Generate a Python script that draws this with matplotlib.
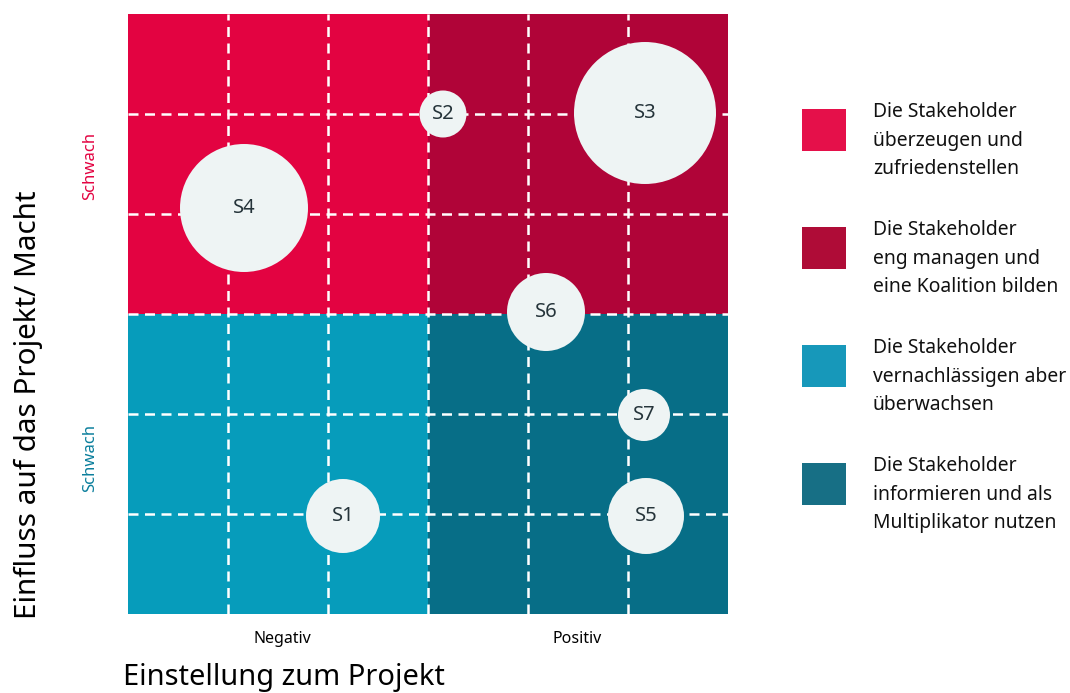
"""Stakeholder-Matrix: Einfluss vs. Einstellung als Blasendiagramm."""

import matplotlib
matplotlib.use("Agg")
from matplotlib import pyplot as plt
from matplotlib.patches import Circle, Rectangle

plt.rcParams['font.family'] = ['Noto Sans', 'DejaVu Sans']

# data
stakeholders = ["S1", "S2", "S3", "S4", "S5", "S6", "S7"]
attitude = [2.15, 3.15, 5.17, 1.16, 5.18, 4.18, 5.16]     # Einstellung (0..6)
influence = [0.98, 5.0, 5.01, 4.06, 0.98, 3.02, 1.99]     # Einfluss (0..6)
bubble_size = [0.37, 0.235, 0.71, 0.64, 0.38, 0.39, 0.26]

quadrant_colors = ["#E30341", "#B00438", "#069CBB", "#076E87"]  # TL, TR, BL, BR
legend_colors = ["#E5104A", "#AF0C37", "#1798BA", "#176F85"]
legend_labels = [
    "Die Stakeholder\nüberzeugen und\nzufriedenstellen",
    "Die Stakeholder\neng managen und\neine Koalition bilden",
    "Die Stakeholder\nvernachlässigen aber\nüberwachsen",
    "Die Stakeholder\ninformieren und als\nMultiplikator nutzen",
]
x_ticklabels = ["Negativ", "Positiv"]

fig = plt.figure(figsize=(10.7, 6.93), dpi=100)
ax = fig.add_axes([128 / 1070, 1 - 614 / 693, 600 / 1070, 600 / 693])
ax.set_xlim(0, 6)
ax.set_ylim(0, 6)

# quadrants
quad_origin = [(0, 3), (3, 3), (0, 0), (3, 0)]
for (x0, y0), col in zip(quad_origin, quadrant_colors):
    ax.add_patch(Rectangle((x0, y0), 3, 3, facecolor=col, edgecolor="none", zorder=0))

# dashed grid
for v in range(1, 6):
    ax.axvline(v, color="white", lw=1.8, ls=(0, (4, 2.6)), zorder=1)
    ax.axhline(v, color="white", lw=1.8, ls=(0, (4, 2.6)), zorder=1)

# bubbles
for name, x, y, r in zip(stakeholders, attitude, influence, bubble_size):
    ax.add_patch(Circle((x, y), r, facecolor="#EEF4F4", edgecolor="none", zorder=3))
    ax.text(x, y, name, ha="center", va="center", fontsize=14.5,
            color="#25343A", zorder=4)

for s in ax.spines.values():
    s.set_visible(False)
ax.set_xticks([1.54, 4.49])
ax.set_xticklabels(x_ticklabels, fontsize=11.5)
ax.tick_params(axis="x", length=0, pad=12)
ax.set_yticks([])

# side labels
fig.text(90 / 1070, 1 - 166 / 693, "Schwach", rotation=90, ha="center",
         va="center", fontsize=12, color="#E30341")
fig.text(90 / 1070, 1 - 458 / 693, "Schwach", rotation=90, ha="center",
         va="center", fontsize=12, color="#0A7E9C")
fig.text(28 / 1070, 1 - 405 / 693, "Einfluss auf das Projekt/ Macht",
         rotation=90, ha="center", va="center", fontsize=21.3)
fig.text(123 / 1070, 1 - 677 / 693, "Einstellung zum Projekt",
         ha="left", va="center", fontsize=20.9)

# legend
for i, (col, lab) in enumerate(zip(legend_colors, legend_labels)):
    top = 109 + i * 118
    fig.patches.append(Rectangle((802 / 1070, 1 - (top + 42) / 693), 44 / 1070,
                                 42 / 693, facecolor=col, edgecolor="none",
                                 transform=fig.transFigure, figure=fig))
    fig.text(873 / 1070, 1 - (top - 7) / 693, lab, ha="left", va="top",
             fontsize=13.9, linespacing=1.57, color="#111111")

fig.savefig("out.png", dpi=100)
plt.close(fig)
